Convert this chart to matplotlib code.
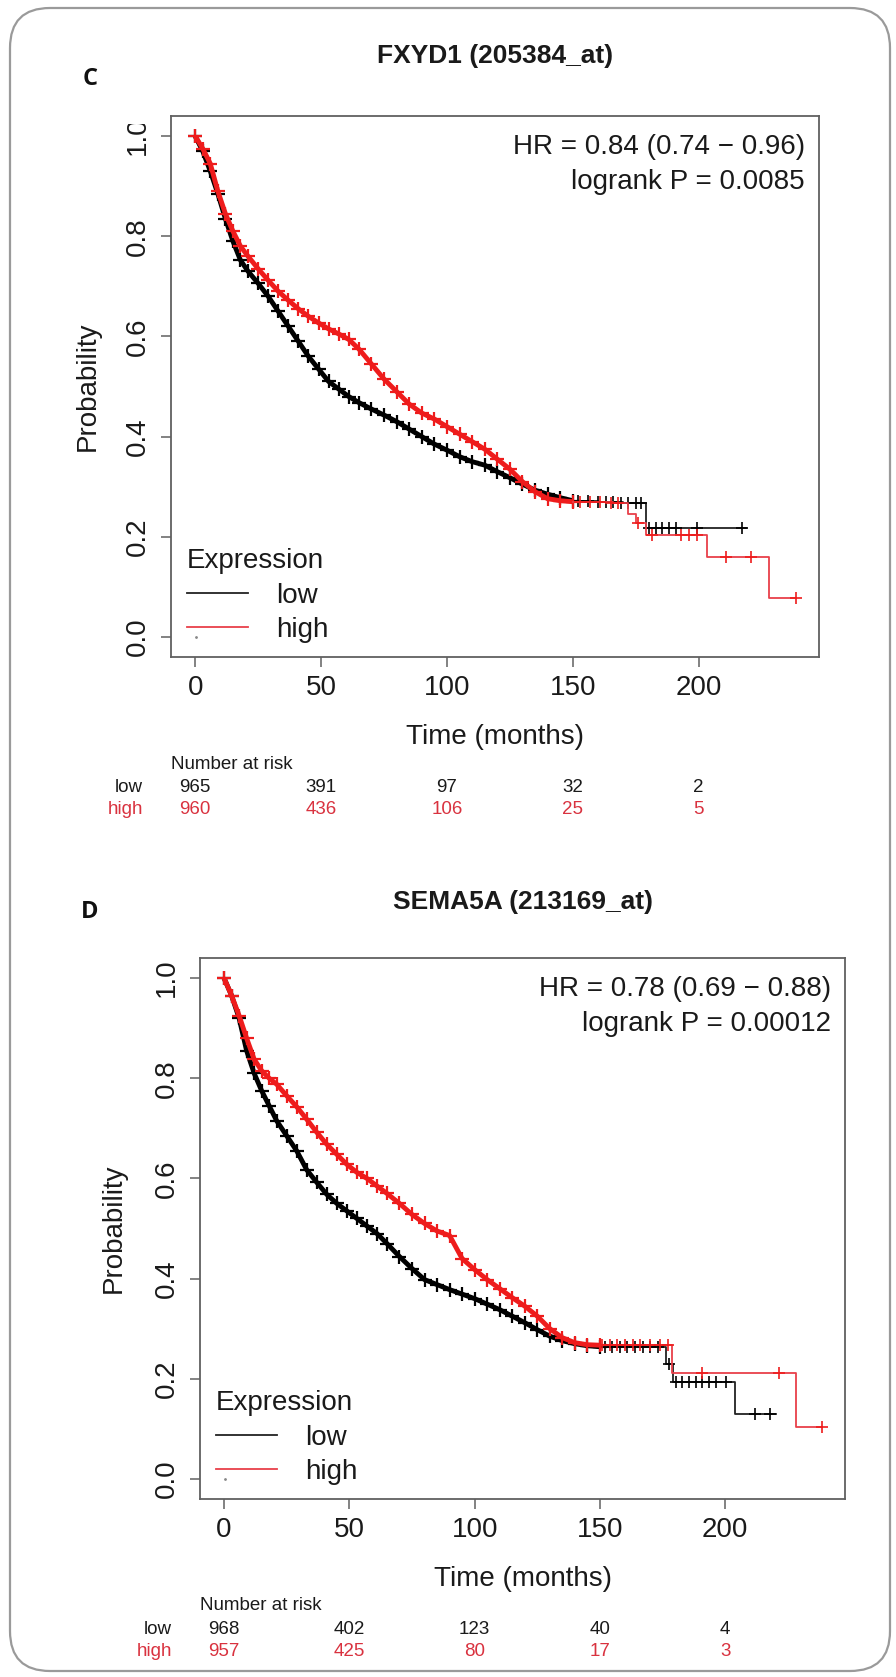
import numpy as np
import matplotlib
matplotlib.use('Agg')
import matplotlib.pyplot as plt
from matplotlib.patches import FancyBboxPatch, Rectangle
from matplotlib.transforms import blended_transform_factory

plt.rcParams['font.family'] = ['Liberation Sans', 'DejaVu Sans']

W, H, DPI = 896, 1677, 100
RED = '#ee1c1c'
RISK_RED = '#d9323f'
FS = 20

risk_times = [0, 50, 100, 150, 200]
xticks = [0, 50, 100, 150, 200]
yticks = [0.0, 0.2, 0.4, 0.6, 0.8, 1.0]

# ---------------- panel C : FXYD1 ----------------
c_title = 'FXYD1 (205384_at)'
c_hr = 'HR = 0.84 (0.74 \u2212 0.96)'
c_p = 'logrank P = 0.0085'

body_t = [0, 3, 6, 9, 12, 15, 18, 21, 25, 29, 33, 37, 41, 45, 49, 53, 57, 61,
          65, 70, 75, 80, 85, 90, 95, 100, 105, 110, 115, 120, 125, 130, 135,
          140, 145, 150]
c_low_s = [1.0, 0.97, 0.93, 0.885, 0.835, 0.79, 0.752, 0.73, 0.706, 0.68, 0.65,
           0.62, 0.59, 0.56, 0.535, 0.51, 0.495, 0.48, 0.468, 0.455, 0.443,
           0.43, 0.415, 0.40, 0.385, 0.373, 0.36, 0.35, 0.343, 0.33, 0.318,
           0.305, 0.293, 0.285, 0.278, 0.272]
c_high_s = [1.0, 0.975, 0.945, 0.89, 0.845, 0.81, 0.78, 0.76, 0.735, 0.712, 0.69,
            0.672, 0.655, 0.64, 0.627, 0.615, 0.605, 0.594, 0.575, 0.545, 0.515,
            0.49, 0.465, 0.447, 0.435, 0.42, 0.405, 0.39, 0.375, 0.355, 0.335,
            0.31, 0.29, 0.276, 0.272, 0.27]

c_low_tail_t = [150, 160, 170, 179, 219]
c_low_tail_s = [0.272, 0.270, 0.268, 0.217, 0.217]
c_low_cens_t = [152, 156, 160, 163, 166, 169, 172, 175, 177,
                180.4, 183, 185.6, 188.3, 191, 199.5, 217.4]
c_low_cens_s = [0.272, 0.271, 0.270, 0.269, 0.269, 0.268, 0.268, 0.268, 0.268,
                0.217, 0.217, 0.217, 0.217, 0.217, 0.217, 0.217]

c_high_tail_t = [150, 158, 166, 172, 175, 179, 203.4, 228, 238.7]
c_high_tail_s = [0.27, 0.27, 0.268, 0.245, 0.227, 0.203, 0.16, 0.078, 0.078]
c_high_cens_t = [153, 157, 161, 165, 168, 176, 181.6, 193, 196, 199.5,
                 211, 220.7, 238.7]
c_high_cens_s = [0.27, 0.27, 0.269, 0.268, 0.268, 0.227, 0.203, 0.203, 0.203,
                 0.203, 0.16, 0.16, 0.078]

c_risk_low = [965, 391, 97, 32, 2]
c_risk_high = [960, 436, 106, 25, 5]

# ---------------- panel D : SEMA5A ----------------
d_title = 'SEMA5A (213169_at)'
d_hr = 'HR = 0.78 (0.69 \u2212 0.88)'
d_p = 'logrank P = 0.00012'

d_low_s = [1.0, 0.965, 0.92, 0.855, 0.81, 0.775, 0.745, 0.715, 0.685, 0.655,
           0.617, 0.592, 0.568, 0.55, 0.535, 0.52, 0.505, 0.49, 0.47, 0.444,
           0.42, 0.398, 0.388, 0.378, 0.369, 0.36, 0.349, 0.338, 0.325, 0.312,
           0.298, 0.285, 0.276, 0.27, 0.266, 0.264]
d_high_s = [1.0, 0.965, 0.925, 0.88, 0.838, 0.815, 0.80, 0.788, 0.765, 0.743,
            0.718, 0.692, 0.668, 0.648, 0.628, 0.612, 0.60, 0.585, 0.57, 0.55,
            0.528, 0.51, 0.495, 0.486, 0.44, 0.418, 0.398, 0.38, 0.362, 0.345,
            0.325, 0.30, 0.282, 0.272, 0.268, 0.267]

d_low_tail_t = [150, 176.3, 179, 203.8, 220.3]
d_low_tail_s = [0.264, 0.23, 0.194, 0.129, 0.129]
d_low_cens_t = [152, 155, 158, 161, 164, 167, 170, 173, 177.5,
                180.2, 182.9, 185.6, 188.3, 190.9, 193.6, 196.3, 200.3, 212, 218]
d_low_cens_s = [0.264] * 8 + [0.23] + [0.194] * 8 + [0.129, 0.129]

d_high_tail_t = [150, 178.8, 228.2, 238.8]
d_high_tail_s = [0.267, 0.212, 0.104, 0.104]
d_high_cens_t = [151, 154, 157, 160, 163, 166, 170, 174, 177, 190.8, 221.5, 238.8]
d_high_cens_s = [0.267] * 9 + [0.212, 0.212, 0.104]

d_risk_low = [968, 402, 123, 40, 4]
d_risk_high = [957, 425, 80, 17, 3]

fig = plt.figure(figsize=(W / DPI, H / DPI), dpi=DPI)
bg = fig.add_axes([0, 0, 1, 1], zorder=0)
bg.set_xlim(0, W)
bg.set_ylim(H, 0)
bg.axis('off')
bg.add_patch(FancyBboxPatch((10, 8), 880, 1663, boxstyle='round,pad=0,rounding_size=40',
                            fc='white', ec='#9a9a9a', lw=1.6))


def panel(box, label, label_dy, title, title_dy, hr, pval, low_s, high_s, low_tail,
          high_tail, low_cens, high_cens, risk_low, risk_high, ylab_x, cut_top=False):
    L, T, R, B = box
    wpx, hpx = R - L, B - T
    ax = fig.add_axes([L / W, 1 - B / H, wpx / W, hpx / H], zorder=1)
    ax.set_facecolor('none')
    ax.set_xlim(-9.6, 247.8)
    ax.set_ylim(-0.04, 1.04)

    ax.plot(body_t, low_s, color='black', lw=3.5, solid_capstyle='butt')
    ax.plot(body_t, low_s, '+', color='black', ms=10, mew=1.6)
    low_line, = ax.step(low_tail[0], low_tail[1], where='post', color='#222222', lw=1.3)
    ax.plot(low_cens[0], low_cens[1], '+', color='black', ms=9, mew=1.2)

    ax.plot(body_t, high_s, color=RED, lw=3.5, solid_capstyle='butt')
    ax.plot(body_t, high_s, '+', color=RED, ms=10, mew=1.6)
    high_line, = ax.step(high_tail[0], high_tail[1], where='post', color='#e8404a', lw=1.3)
    ax.plot(high_cens[0], high_cens[1], '+', color=RED, ms=9, mew=1.2)
    ax.plot([0.5], [0.0], '.', color='#888888', ms=2)

    ax.set_xticks(xticks)
    ax.set_yticks(yticks)
    ax.set_yticklabels(['%.1f' % v for v in yticks])
    for s in ax.spines.values():
        s.set_color('#606060')
        s.set_linewidth(1.3)
    ax.tick_params(axis='both', length=7.2, width=1.1, color='#606060',
                   labelsize=FS, labelcolor='#1a1a1a')
    ax.tick_params(axis='x', pad=6)
    ax.tick_params(axis='y', pad=7.5, labelrotation=90)
    for t in ax.get_yticklabels():
        t.set_va('center')

    ax.set_xlabel('Time (months)', fontsize=FS, color='#1a1a1a')
    ax.xaxis.label.set_va('center')
    ax.xaxis.set_label_coords(0.5, -80 / hpx)
    ax.set_ylabel('Probability', fontsize=FS, color='#1a1a1a')
    ax.yaxis.label.set_va('center')
    ax.yaxis.set_label_coords(-(L - ylab_x) / wpx, 0.5)

    ax.text(1 - 14 / wpx, 1 - 31 / hpx, hr, transform=ax.transAxes, ha='right',
            va='center', fontsize=FS, color='#1a1a1a')
    ax.text(1 - 14 / wpx, 1 - 66 / hpx, pval, transform=ax.transAxes, ha='right',
            va='center', fontsize=FS, color='#1a1a1a')

    leg = ax.legend([low_line, high_line], ['low', 'high'], title='Expression',
                    loc='lower left', bbox_to_anchor=(16 / wpx, 14 / hpx),
                    frameon=False, fontsize=FS, title_fontsize=FS,
                    handlelength=2.2, handletextpad=1.0, labelspacing=0.3,
                    borderpad=0, borderaxespad=0, alignment='left')
    for t in leg.get_texts():
        t.set_color('#1a1a1a')
    leg.get_title().set_color('#1a1a1a')

    ax.set_title(title, fontsize=19, fontweight='bold', color='#1a1a1a',
                 y=1 + title_dy / hpx, va='center')

    bg.text(90, T - label_dy, label, fontsize=17, fontweight='bold', family='Open Sans',
            ha='center', va='center', color='#111111')

    # the source image cuts off the top of the "1.0" label
    if cut_top:
        fig.add_artist(Rectangle((108, T - 40), L - 12 - 108, 48, transform=bg.transData,
                                 fc='white', ec='none', zorder=5))

    tr = blended_transform_factory(ax.transData, bg.transData)
    tra = blended_transform_factory(ax.transAxes, bg.transData)
    rfs = 13.5
    ax.text(0, B + 107, 'Number at risk', transform=tra, ha='left', va='center',
            fontsize=rfs, color='#1a1a1a', clip_on=False)
    bg.text(L - 28, B + 130, 'low', ha='right', va='center', fontsize=rfs, color='#1a1a1a')
    bg.text(L - 28, B + 152, 'high', ha='right', va='center', fontsize=rfs, color=RISK_RED)
    for tm, nl, nh in zip(risk_times, risk_low, risk_high):
        ax.text(tm, B + 130, str(nl), transform=tr, ha='center', va='center',
                fontsize=rfs, color='#1a1a1a', clip_on=False)
        ax.text(tm, B + 152, str(nh), transform=tr, ha='center', va='center',
                fontsize=rfs, color=RISK_RED, clip_on=False)
    return ax


panel((171, 116, 819, 657), 'C', 37, c_title, 52, c_hr, c_p, c_low_s, c_high_s,
      (c_low_tail_t, c_low_tail_s), (c_high_tail_t, c_high_tail_s),
      (c_low_cens_t, c_low_cens_s), (c_high_cens_t, c_high_cens_s),
      c_risk_low, c_risk_high, 88, cut_top=True)
panel((200, 958, 845, 1499), 'D', 46, d_title, 48, d_hr, d_p, d_low_s, d_high_s,
      (d_low_tail_t, d_low_tail_s), (d_high_tail_t, d_high_tail_s),
      (d_low_cens_t, d_low_cens_s), (d_high_cens_t, d_high_cens_s),
      d_risk_low, d_risk_high, 114)

fig.savefig('out.png', dpi=DPI)
